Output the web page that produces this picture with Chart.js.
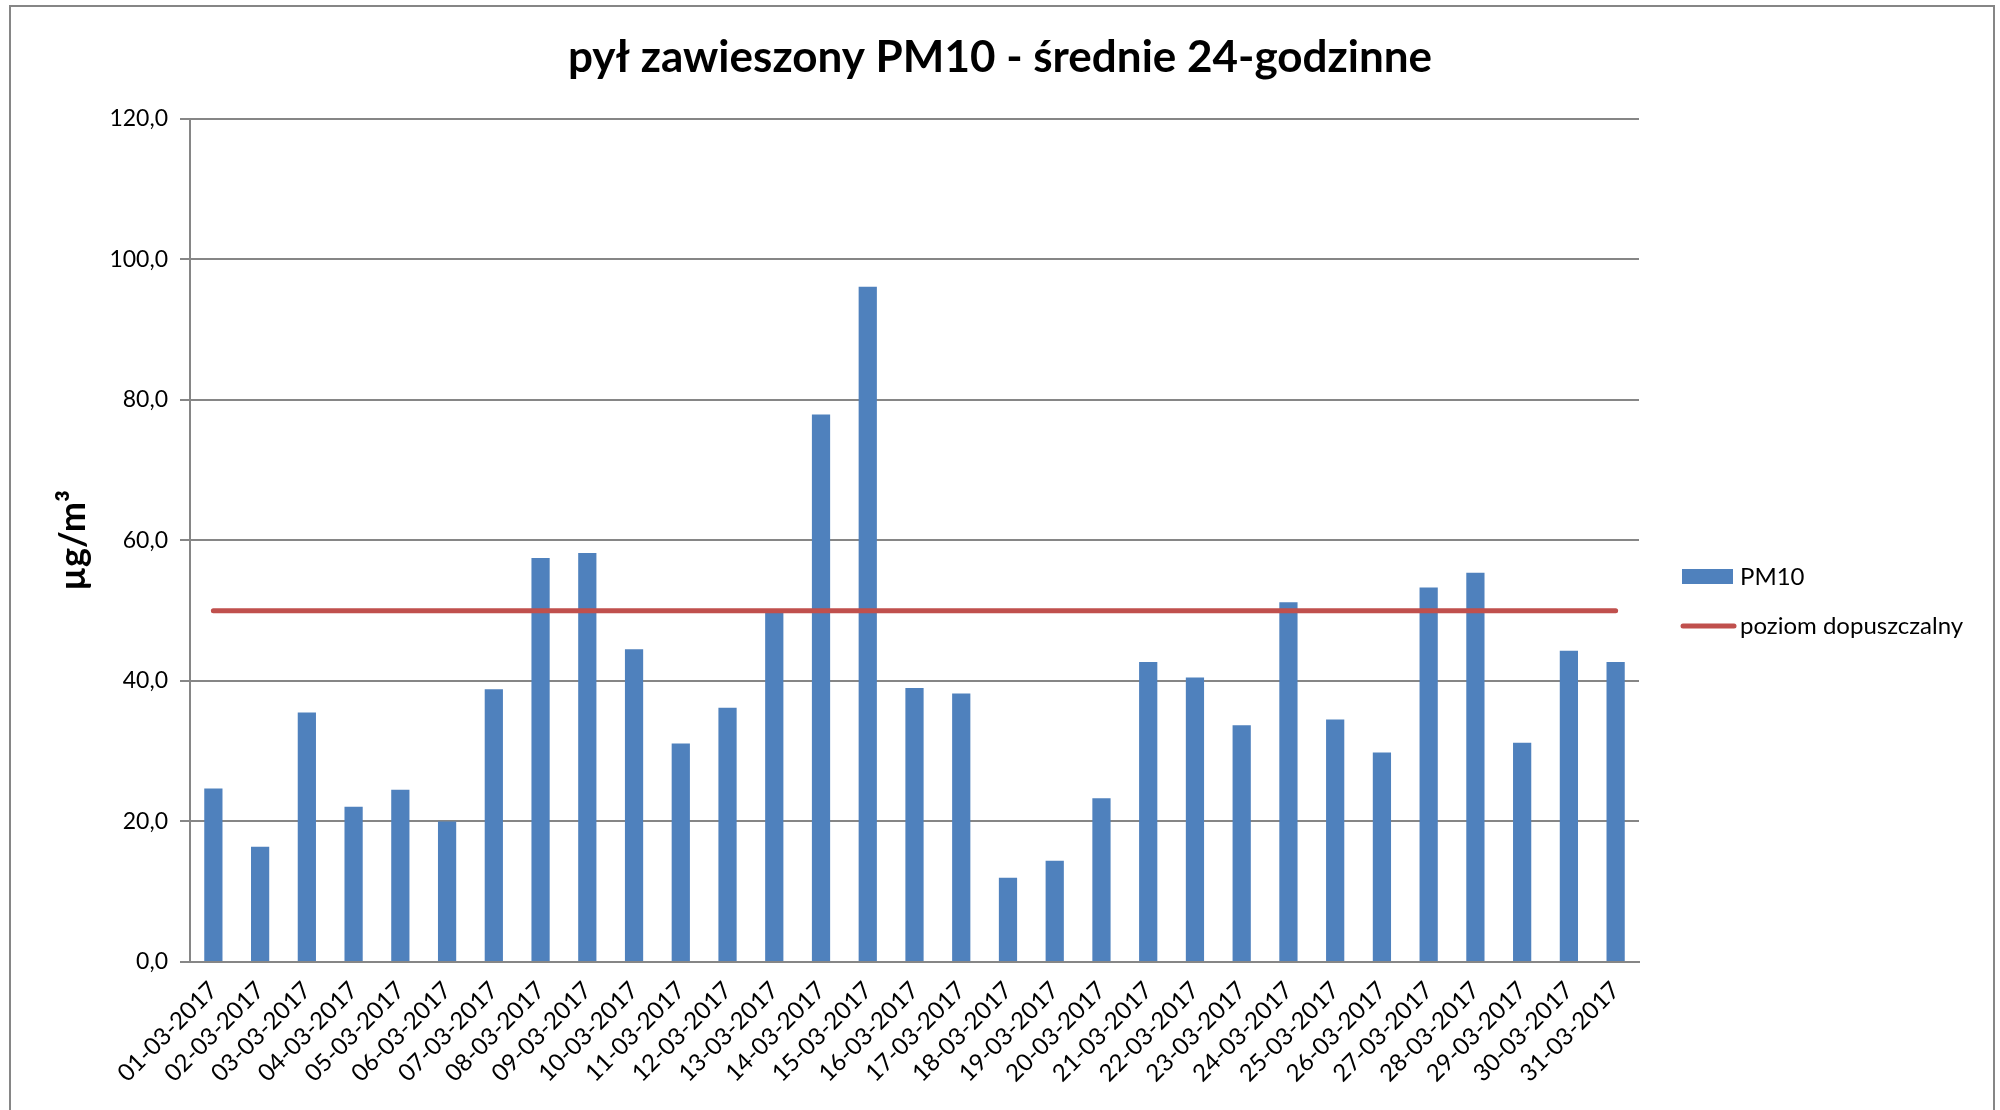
<!DOCTYPE html>
<html>
<head>
<meta charset="utf-8">
<script src="https://cdn.jsdelivr.net/npm/chart.js@4.4.1/dist/chart.umd.min.js"></script>
<style>
  html, body { margin: 0; padding: 0; background: #fff; overflow: hidden; }
  #wrap { width: 2000px; height: 1110px; }
</style>
</head>
<body>
<div id="wrap"><canvas id="chart" width="2000" height="1110"></canvas></div>
<script>
// dni marca 2017
const days = [
  "01-03-2017", "02-03-2017", "03-03-2017", "04-03-2017", "05-03-2017",
  "06-03-2017", "07-03-2017", "08-03-2017", "09-03-2017", "10-03-2017",
  "11-03-2017", "12-03-2017", "13-03-2017", "14-03-2017", "15-03-2017",
  "16-03-2017", "17-03-2017", "18-03-2017", "19-03-2017", "20-03-2017",
  "21-03-2017", "22-03-2017", "23-03-2017", "24-03-2017", "25-03-2017",
  "26-03-2017", "27-03-2017", "28-03-2017", "29-03-2017", "30-03-2017",
  "31-03-2017"
];
// PM10 srednie dobowe
const pm10 = [
  24.7, 16.4, 35.5, 22.1, 24.5, 20.0, 38.8, 57.5, 58.2, 44.5,
  31.1, 36.2, 49.8, 77.9, 96.1, 39.0, 38.2, 12.0, 14.4, 23.3,
  42.7, 40.5, 33.7, 51.2, 34.5, 29.8, 53.3, 55.4, 31.2, 44.3,
  42.7
];
// poziom dopuszczalny
const limit = [
  50, 50, 50, 50, 50, 50, 50, 50, 50, 50,
  50, 50, 50, 50, 50, 50, 50, 50, 50, 50,
  50, 50, 50, 50, 50, 50, 50, 50, 50, 50,
  50
];
const yTicks = [0, 20, 40, 60, 80, 100, 120];

const FONT = "Lato";
const GRID = "#868686";
const BLUE = "#4F81BD";
const RED = "#C0504D";

// ramka + tlo
const framePlugin = {
  id: "frame",
  beforeDraw(chart) {
    const ctx = chart.ctx;
    ctx.save();
    ctx.fillStyle = "#fff";
    ctx.fillRect(0, 0, chart.width, chart.height);
    ctx.strokeStyle = GRID;
    ctx.lineWidth = 2;
    ctx.strokeRect(10, 6, 1984, 1200);
    ctx.restore();
  }
};

// legenda po prawej stronie
const legendPlugin = {
  id: "sideLegend",
  afterDraw(chart) {
    const ctx = chart.ctx;
    const ds = chart.data.datasets;
    const x = chart.chartArea.right + 43;
    ctx.save();
    ctx.font = "24px " + FONT;
    ctx.textBaseline = "middle";
    // PM10
    ctx.fillStyle = ds[0].backgroundColor;
    ctx.fillRect(x, 569, 51, 15);
    ctx.fillStyle = "#000";
    ctx.fillText(ds[0].label, x + 58, 577);
    // linia
    ctx.strokeStyle = ds[1].borderColor;
    ctx.lineWidth = 5;
    ctx.lineCap = "round";
    ctx.beginPath();
    ctx.moveTo(x + 1, 626);
    ctx.lineTo(x + 52, 626);
    ctx.stroke();
    ctx.fillText(ds[1].label, x + 58, 626);
    ctx.restore();
  }
};

new Chart(document.getElementById("chart"), {
  data: {
    labels: days,
    datasets: [
      {
        type: "bar",
        label: "PM10",
        data: pm10,
        backgroundColor: BLUE,
        borderWidth: 0,
        barPercentage: 0.39,
        categoryPercentage: 1.0,
        order: 2
      },
      {
        type: "line",
        label: "poziom dopuszczalny",
        data: limit,
        borderColor: RED,
        backgroundColor: RED,
        borderWidth: 5,
        borderCapStyle: "round",
        pointRadius: 0,
        fill: false,
        order: 1
      }
    ]
  },
  options: {
    responsive: false,
    animation: false,
    layout: { padding: 0 },
    plugins: {
      legend: { display: false },
      tooltip: { enabled: false },
      title: {
        display: true,
        text: "pył zawieszony PM10 - średnie 24-godzinne",
        color: "#000",
        font: { family: FONT, size: 44, weight: "bold" },
        padding: { top: 31, bottom: 35 }
      }
    },
    scales: {
      x: {
        offset: true,
        grid: { display: false },
        border: { display: true, color: GRID, width: 2 },
        ticks: {
          color: "#000",
          font: { family: FONT, size: 24 },
          minRotation: 45,
          maxRotation: 45,
          autoSkip: false,
          padding: 6
        },
        afterFit(scale) { scale.height = 148; }
      },
      y: {
        min: 0,
        max: 120,
        afterBuildTicks(scale) {
          scale.ticks = yTicks.map(v => ({ value: v }));
        },
        grid: { color: GRID, lineWidth: 2, tickLength: 10 },
        border: { display: true, color: GRID, width: 2 },
        ticks: {
          color: "#000",
          font: { family: FONT, size: 23 },
          padding: 12,
          callback: v => v.toFixed(1).replace(".", ",")
        },
        title: {
          display: true,
          text: "µg/m³",
          color: "#000",
          font: { family: FONT, size: 36, weight: "bold" },
          padding: { top: 52, bottom: 0 }
        },
        afterFit(scale) { scale.width = 190; }
      },
      // pusta os po prawej - miejsce na legende
      legendSpace: {
        position: "right",
        min: 0,
        max: 120,
        grid: { display: false },
        border: { display: false },
        ticks: { display: false },
        afterFit(scale) { scale.width = 361; }
      }
    }
  },
  plugins: [framePlugin, legendPlugin]
});
</script>
</body>
</html>
